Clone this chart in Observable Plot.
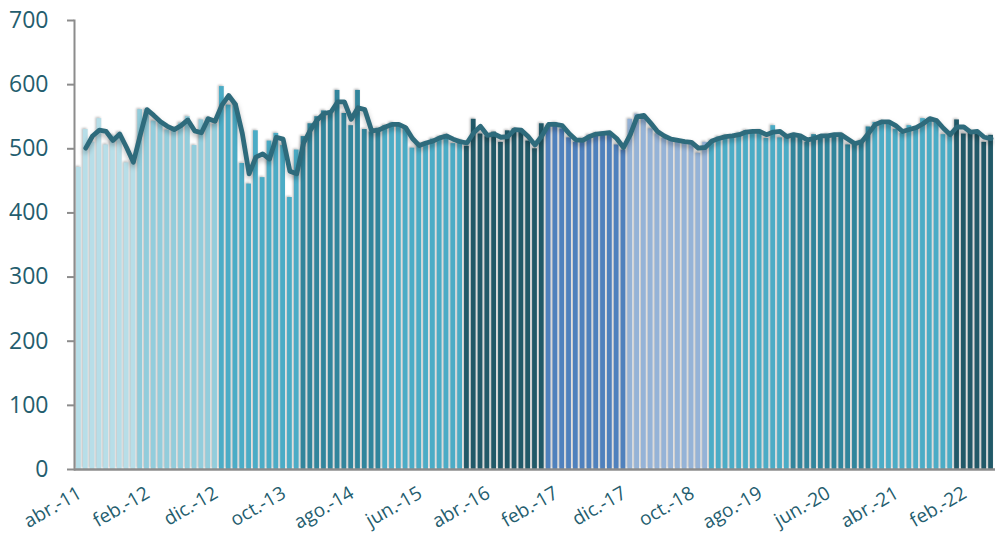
<!DOCTYPE html>
<html>
<head>
<meta charset="utf-8">
<script src="https://cdn.jsdelivr.net/npm/d3@7"></script>
<script src="https://cdn.jsdelivr.net/npm/@observablehq/plot@0.6"></script>
<style>
  html, body { margin: 0; padding: 0; background: #ffffff; }
  #chart { width: 995px; height: 535px; }
</style>
</head>
<body>
<div id="chart"></div>
<script>
// Monthly series, abr.-2011 .. jun.-2022
const monthAbbr = ["ene.","feb.","mar.","abr.","may.","jun.","jul.","ago.","sept.","oct.","nov.","dic."];
const firstYear = 2011;
const firstMonth = 3; // abril

const barValues = [
  // 2011 (abr-dic)
  471, 530, 510, 547, 506, 520, 525, 478, 480,
  // 2012
  561, 561, 543, 541, 529, 531, 540, 550, 505, 545, 548, 538,
  // 2013
  597, 568, 570, 477, 445, 528, 455, 512, 524, 505, 424, 498,
  // 2014
  519, 539, 550, 559, 554, 591, 555, 536, 591, 530, 526, 532,
  // 2015
  536, 540, 535, 531, 501, 508, 509, 515, 518, 522, 508, 513,
  // 2016
  504, 546, 523, 519, 526, 510, 528, 531, 526, 512, 500, 539,
  // 2017
  536, 540, 531, 517, 510, 516, 521, 524, 524, 525, 506, 498,
  // 2018
  546, 554, 549, 531, 523, 516, 513, 512, 510, 509, 493, 510,
  // 2019
  513, 518, 520, 520, 524, 528, 526, 528, 516, 536, 517, 521,
  // 2020
  522, 518, 510, 522, 518, 522, 521, 523, 506, 509, 513, 534,
  // 2021
  541, 543, 541, 530, 524, 536, 530, 547, 546, 542, 522, 522,
  // 2022 (ene-jun)
  545, 523, 528, 526, 510, 521
];

const trendValues = [
  null, 501, 520, 529, 527, 513, 523, 502, 479,
  521, 561, 552, 542, 535, 530, 536, 545, 528, 525, 547, 543,
  568, 583, 569, 524, 461, 487, 492, 484, 518, 515, 465, 461,
  509, 529, 545, 555, 557, 573, 573, 546, 564, 561, 528, 529,
  534, 538, 538, 533, 516, 505, 509, 512, 517, 520, 515, 511,
  509, 525, 535, 521, 523, 518, 519, 530, 529, 519, 506, 520,
  538, 538, 536, 524, 514, 513, 519, 523, 524, 525, 516, 502,
  522, 550, 552, 540, 527, 520, 515, 513, 511, 510, 501, 502,
  512, 516, 519, 520, 522, 526, 527, 527, 522, 526, 527, 519,
  522, 520, 514, 516, 520, 520, 522, 522, 515, 508, 511, 524,
  538, 542, 542, 536, 527, 530, 533, 539, 547, 544, 532, 522,
  534, 534, 526, 527, 518, 516
];

const yearColors = ["#B7DEE8","#92CDDC","#4BACC6","#31859C","#4BACC6","#215968",
                    "#4F81BD","#95B3D7","#4BACC6","#31859C","#4BACC6","#215968"];

const tickLabels = ["abr.-11","feb.-12","dic.-12","oct.-13","ago.-14","jun.-15","abr.-16",
                    "feb.-17","dic.-17","oct.-18","ago.-19","jun.-20","abr.-21","feb.-22"];
const yTicks = [0, 100, 200, 300, 400, 500, 600, 700];

const data = barValues.map((v, i) => {
  const m = firstMonth + i;
  const year = firstYear + Math.floor(m / 12);
  return {
    label: monthAbbr[m % 12] + "-" + String(year).slice(2),
    year,
    value: v,
    trend: trendValues[i]
  };
});

const textColor = "#245d6e";
const axisGray = "#8c8c8c";

const chart = Plot.plot({
  width: 995,
  height: 535,
  marginLeft: 74,
  marginRight: 0,
  marginTop: 20,
  marginBottom: 66,
  style: { fontFamily: "'Open Sans', sans-serif", background: "#ffffff" },
  x: { type: "band", domain: data.map(d => d.label), padding: 0.3 },
  y: { domain: [0, 700] },
  color: { type: "identity" },
  marks: [
    Plot.barY(data, { x: "label", y: "value", fill: d => yearColors[d.year - firstYear] }),
    Plot.lineY(data.filter(d => d.trend != null), { x: "label", y: "trend", stroke: "#2e6b7c", strokeWidth: 4.8, strokeLinejoin: "round", strokeLinecap: "round" }),
    Plot.ruleY([0], { stroke: axisGray, strokeWidth: 2.5 }),
    Plot.frame({ anchor: "left", stroke: axisGray, strokeWidth: 2 }),
    Plot.axisY({ ticks: yTicks, tickSize: 7, tickPadding: 19, stroke: axisGray, strokeWidth: 2, fill: textColor, fontSize: 23, label: null }),
    Plot.axisX({ ticks: tickLabels, tickRotate: -30, tickSize: 0, tickPadding: 22, dx: 1, fill: textColor, fontSize: 19, label: null })
  ]
});

document.getElementById("chart").appendChild(chart);

// soft shadows like the original
chart.querySelectorAll('g[aria-label="bar"]').forEach(g => {
  g.style.filter = "drop-shadow(-1px -1px 1px rgba(0,0,0,0.28))";
});
chart.querySelectorAll('g[aria-label="line"]').forEach(g => {
  g.style.filter = "drop-shadow(0px 3px 2.5px rgba(0,0,0,0.28))";
});
</script>
</body>
</html>
